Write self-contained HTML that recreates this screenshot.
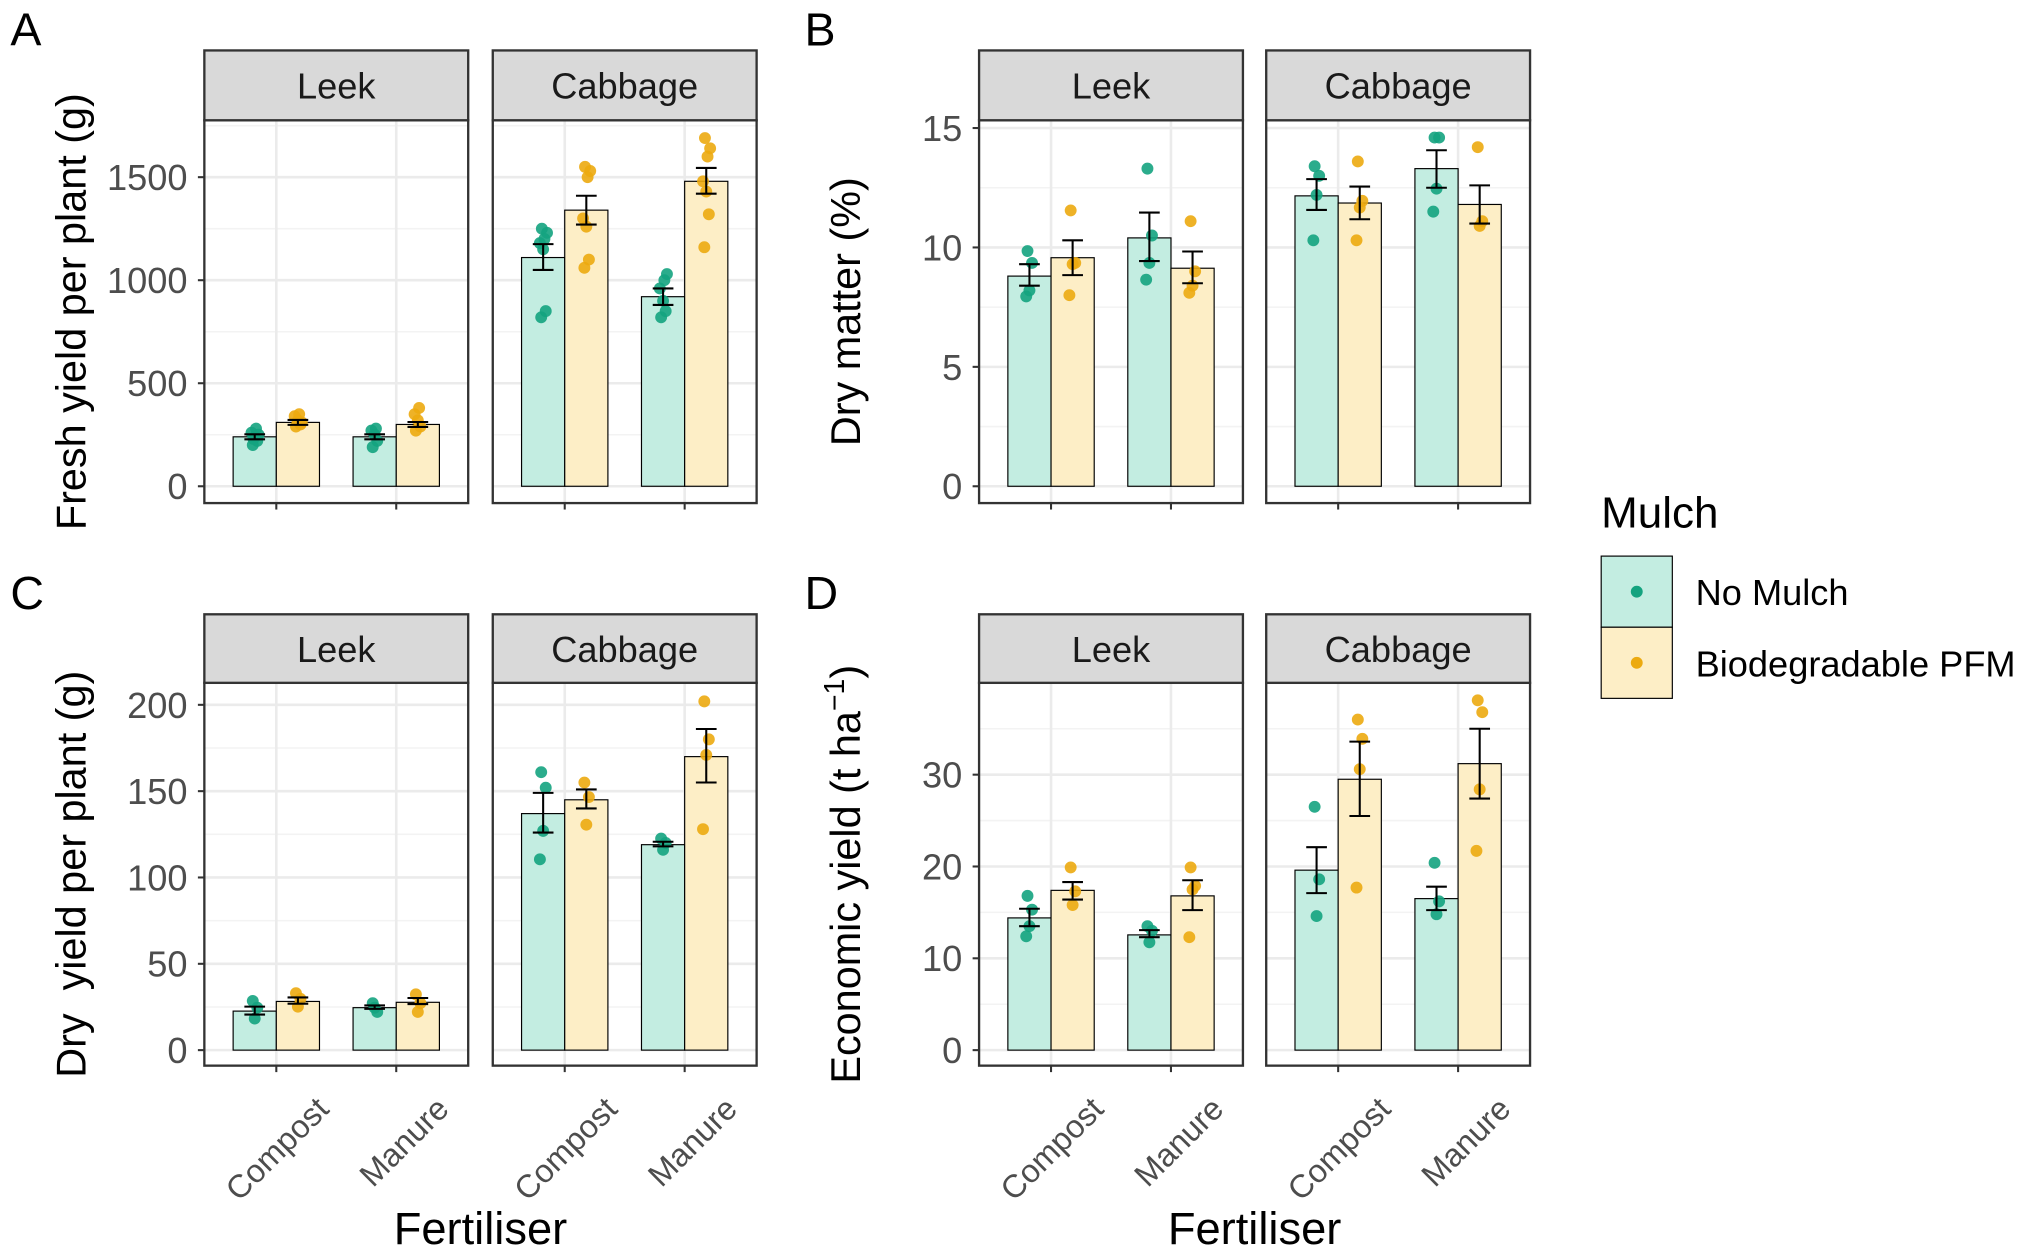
<!DOCTYPE html>
<html><head><meta charset="utf-8"><style>
html,body{margin:0;padding:0;background:#fff;}
svg{display:block;font-family:"Liberation Sans",Arial,sans-serif;}
</style></head><body>
<svg id="fig" width="2028" height="1248" viewBox="0 0 1568 965" preserveAspectRatio="none" xmlns="http://www.w3.org/2000/svg">
<g id="root"></g>
</svg>
<script>
// ---- data ----
const crops = ["Leek", "Cabbage"];
const fertilisers = ["Compost", "Manure"];
const mulches = ["No Mulch", "Biodegradable PFM"];
// order: [crop][fert][mulch]
const freshMeans = [[[240,310],[240,300]],[[1110,1340],[920,1480]]];
const freshLo = [[[228,298],[228,288]],[[1050,1270],[880,1420]]];
const freshHi = [[[252,322],[252,312]],[[1175,1410],[960,1545]]];
const freshPts = [[[[200,220,240,260,280,250,230],[290,300,320,340,350,310]],[[190,220,250,270,280],[270,290,320,350,380]]],
  [[[820,850,1150,1180,1200,1230,1250],[1060,1100,1260,1300,1500,1530,1550]],[[820,850,900,960,1000,1030],[1160,1320,1430,1480,1600,1640,1690]]]];
const dmMeans = [[[8.8,9.57],[10.4,9.13]],[[12.16,11.86],[13.3,11.8]]];
const dmLo = [[[8.4,8.84],[9.43,8.5]],[[11.57,11.18],[12.5,11.0]]];
const dmHi = [[[9.3,10.3],[11.46,9.83]],[[12.86,12.55],[14.07,12.6]]];
const dmPts = [[[[9.85,9.35,8.2,7.95],[11.55,9.35,9.3,8.0]],[[13.3,10.5,9.35,8.65],[11.1,9.0,8.4,8.1]]],
  [[[13.4,13.0,12.2,10.3],[13.6,11.95,11.67,10.3]],[[14.6,14.6,12.46,11.5],[14.2,11.1,10.9]]]];
const dryMeans = [[[22.6,28.2],[24.6,27.7]],[[137,145],[119,170]]];
const dryLo = [[[20.6,26.9],[23.9,26.7]],[[126,140],[118,155]]];
const dryHi = [[[25.2,30.5],[25.9,30.2]],[[149,151],[120.7,186]]];
const dryPts = [[[[28.5,24.6,18.3],[33,29.7,25.2]],[[27.2,22.1,24.6],[32.3,27.2,22.1]]],
  [[[161,152,127,110.5],[155,146.6,130.6]],[[122.5,120,116],[202,180,171,128]]]];
const ecoMeans = [[[14.4,17.4],[12.55,16.8]],[[19.6,29.5],[16.5,31.2]]];
const ecoLo = [[[13.5,16.4],[12.3,15.25]],[[17.1,25.5],[15.25,27.4]]];
const ecoHi = [[[15.4,18.3],[13.07,18.5]],[[22.1,33.6],[17.8,35.0]]];
const ecoPts = [[[[16.8,15.3,13.5,12.4],[19.9,17.3,15.8]],[[13.5,13.0,11.75],[19.9,17.9,17.5,12.3]]],
  [[[26.5,18.6,14.6],[36.0,33.9,30.6,17.7]],[[20.4,16.2,14.8],[38.1,36.8,28.4,21.7]]]];
const freshTicks = [0,500,1000,1500];
const dmTicks = [0,5,10,15];
const dryTicks = [0,50,100,150,200];
const ecoTicks = [0,10,20,30];

const NS="http://www.w3.org/2000/svg";
const root=document.getElementById('root');
function mk(tag,attrs,parent){const e=document.createElementNS(NS,tag);for(const k in attrs)e.setAttribute(k,attrs[k]);(parent||root).appendChild(e);return e;}
const fillC=["#c3ede1","#fdeec6"], ptC=["#14a37f","#ecaa10"];

function panel(cfg){
  const g=mk('g',{});
  
  
  const y0=cfg.y0, ppu=(cfg.y0-cfg.yTop)/cfg.vTop;
  const Y=v=>y0-v*ppu;
  const W=204, uw=W/2.2;
  crops.forEach((crop,ci)=>{
    const L=cfg.lefts[ci];
    const X=u=>L+(u-0.4)*uw;
    mk('rect',{x:L,y:cfg.pt,width:W,height:cfg.pb-cfg.pt,fill:"#fff"},g);
    for(let i=0;i<cfg.ticks.length;i++){
      const step=cfg.ticks[1]-cfg.ticks[0];
      const mv=cfg.ticks[i]+step/2, yy=Y(mv);
      if(yy>cfg.pt&&yy<cfg.pb) mk('line',{x1:L,x2:L+W,y1:yy,y2:yy,stroke:"#f3f3f3","stroke-width":1.2},g);
      const ym=Y(cfg.ticks[i]-step/2);
      if(i===0&&ym>cfg.pt&&ym<cfg.pb) mk('line',{x1:L,x2:L+W,y1:ym,y2:ym,stroke:"#f3f3f3","stroke-width":1.2},g);
    }
    cfg.ticks.forEach(t=>{const yy=Y(t);const gl=mk('line',{x1:L,x2:L+W,y1:yy,y2:yy,stroke:"#ebebeb","stroke-width":2},g);
      
      });
    fertilisers.forEach((f,fi)=>{const xx=X(fi+1);mk('line',{x1:xx,x2:xx,y1:cfg.pt,y2:cfg.pb,stroke:"#ebebeb","stroke-width":2},g);});
    fertilisers.forEach((f,fi)=>{
      mulches.forEach((m,mi)=>{
        const cx=X(fi+1)+(mi===0?-0.18:0.18)*uw, bw=0.36*uw;
        const v=cfg.means[ci][fi][mi];
        const b=mk('rect',{x:cx-bw/2,y:Y(v),width:bw,height:Y(0)-Y(v),fill:fillC[mi],stroke:"#000","stroke-width":0.9},g);
        
        
        cfg.pts[ci][fi][mi].forEach((p,pi)=>{
          const off=[-1.5,2,0,-2.5,1,3,-1][pi%7];
          const c=mk('circle',{cx:cx+off,cy:Y(p),r:4.6,fill:ptC[mi],"fill-opacity":0.9},g);
          
          
        });
        const lo=Y(cfg.lo[ci][fi][mi]), hi=Y(cfg.hi[ci][fi][mi]);
        const eb=mk('path',{d:`M${cx-8},${hi}H${cx+8}M${cx},${hi}V${lo}M${cx-8},${lo}H${cx+8}`,stroke:"#000","stroke-width":1.6,fill:"none"},g);
        
        
      });
      const xx=X(fi+1);
      mk('line',{x1:xx,x2:xx,y1:cfg.pb,y2:cfg.pb+5,stroke:"#333","stroke-width":1.6},g);
      if(cfg.xlabels){
        const t=mk('text',{x:0,y:0,transform:`translate(${xx+42},${859}) rotate(-45)`,"text-anchor":"end","font-size":25,fill:"#4d4d4d"},g);
        t.textContent=f;
        
        
      }
    });
    mk('rect',{x:L,y:cfg.pt,width:W,height:cfg.pb-cfg.pt,fill:"none",stroke:"#333","stroke-width":1.8},g);
    const s=mk('rect',{x:L,y:cfg.st,width:W,height:cfg.pt-cfg.st,fill:"#d9d9d9",stroke:"#333","stroke-width":1.8},g);
    
    
    const st=mk('text',{x:L+W/2,y:cfg.st+37,"text-anchor":"middle","font-size":28,fill:"#1a1a1a"},g);
    st.textContent=crop;
    
    
  });
  const L0=cfg.lefts[0];
  cfg.ticks.forEach(t=>{const yy=Y(t);
    mk('line',{x1:L0-5,x2:L0,y1:yy,y2:yy,stroke:"#333","stroke-width":1.6},g);
    const tl=mk('text',{x:L0-13,y:yy+10,"text-anchor":"end","font-size":28,fill:"#4d4d4d"},g);
    tl.textContent=String(t);
    
    
  });
  const yt=mk('text',{x:0,y:0,transform:`translate(${L0-92},${(cfg.pt+cfg.pb)/2}) rotate(-90)`,"text-anchor":"middle","font-size":32,fill:"#000"},g);
  yt.innerHTML=cfg.ytitle;
  
  
  const pl=mk('text',{x:cfg.letterX,y:cfg.st-4,"font-size":36,fill:"#000"},g);
  pl.textContent=cfg.letter;
  
  
  if(cfg.xlabels){
    const xt=mk('text',{x:(cfg.lefts[0]+cfg.lefts[1]+204)/2,y:962,"text-anchor":"middle","font-size":35,fill:"#000"},g);
    xt.textContent="Fertiliser";
    
    
  }
}
panel({name:"panel-a-fresh-yield",letter:"A",letterX:8,lefts:[158,381],st:39,pt:93,pb:389,y0:376,yTop:137,vTop:1500,ticks:freshTicks,means:freshMeans,lo:freshLo,hi:freshHi,pts:freshPts,ytitle:"Fresh yield per plant (g)",xlabels:false});
panel({name:"panel-b-dry-matter",letter:"B",letterX:622,lefts:[757,979],st:39,pt:93,pb:389,y0:376,yTop:99,vTop:15,ticks:dmTicks,means:dmMeans,lo:dmLo,hi:dmHi,pts:dmPts,ytitle:"Dry matter (%)",xlabels:false});
panel({name:"panel-c-dry-yield",letter:"C",letterX:8,lefts:[158,381],st:475,pt:528,pb:824,y0:812,yTop:545,vTop:200,ticks:dryTicks,means:dryMeans,lo:dryLo,hi:dryHi,pts:dryPts,ytitle:"Dry\u00a0 yield per plant (g)",xlabels:true});
panel({name:"panel-d-economic-yield",letter:"D",letterX:622,lefts:[757,979],st:475,pt:528,pb:824,y0:812,yTop:599,vTop:30,ticks:ecoTicks,means:ecoMeans,lo:ecoLo,hi:ecoHi,pts:ecoPts,ytitle:"Economic yield (t ha<tspan baseline-shift=\"super\" font-size=\"22\">−1</tspan>)",xlabels:true});

// legend
const lg=mk('g',{});


const lt=mk('text',{x:1238,y:408,"font-size":34,fill:"#000"},lg);
lt.textContent="Mulch";
mulches.forEach((m,mi)=>{
  const y=430+mi*55;
  const k=mk('rect',{x:1238,y:y,width:55,height:55,fill:fillC[mi],stroke:"#000","stroke-width":0.9},lg);
  
  
  mk('circle',{cx:1265.5,cy:y+27.5,r:4.6,fill:ptC[mi]},lg);
  const t=mk('text',{x:1311,y:y+38,"font-size":28,fill:"#000"},lg);
  t.textContent=m;
  
  
});
</script>
</body></html>
